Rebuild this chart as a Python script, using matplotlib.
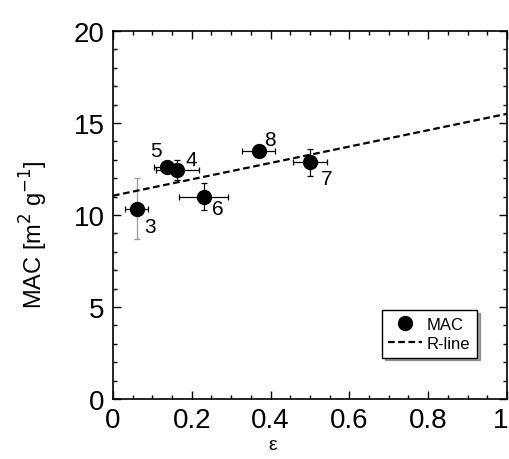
import numpy as np
from matplotlib import pyplot as plt
from matplotlib.ticker import MultipleLocator
from matplotlib.transforms import ScaledTranslation

plt.rcParams["font.family"] = ["Liberation Sans", "DejaVu Sans"]

# sample numbers and MAC values
labels = ["3", "5", "4", "6", "8", "7"]
eps = [0.06, 0.136, 0.163, 0.23, 0.37, 0.50]
mac = [10.35, 12.6, 12.45, 11.0, 13.48, 12.86]
eps_err = [0.03, 0.033, 0.055, 0.062, 0.042, 0.043]
mac_err = [0.0, 0.0, 0.55, 0.74, 0.0, 0.75]
label_pos = [(0.094, 9.37), (0.11, 13.53), (0.199, 13.04),
             (0.266, 10.35), (0.399, 14.13), (0.542, 11.99)]

# faint vertical bar on sample 3
faint_err = 1.65

# regression line
line_x = [0.0, 1.0]
line_y = [11.05, 15.5]

fig = plt.figure(figsize=(5.1, 4.6), dpi=100)
ax = fig.add_axes([0.2216, 0.1304, 0.994 - 0.2216, 0.8])

ax.errorbar(eps[0], mac[0], yerr=faint_err, fmt="none", ecolor="#9a9a9a",
            elinewidth=0.9, capsize=2, capthick=0.9)
ax.errorbar(eps, mac, xerr=eps_err, yerr=mac_err, fmt="none",
            ecolor="black", elinewidth=0.9, capsize=2, capthick=0.9)
ax.plot(eps, mac, "o", color="black", markersize=10, label="MAC")
ax.plot(line_x, line_y, color="black", linestyle=(0, (3, 1.6)),
        linewidth=1.6, label="R-line")

for lab, (lx, ly) in zip(labels, label_pos):
    ax.text(lx, ly, lab, fontsize=15, ha="center", va="center")

ax.set_xlim(0, 1)
ax.set_ylim(0, 20)
ax.xaxis.set_minor_locator(MultipleLocator(0.05))
ax.yaxis.set_major_locator(MultipleLocator(5))
ax.yaxis.set_minor_locator(MultipleLocator(1))
ax.set_xticks([0, 0.2, 0.4, 0.6, 0.8, 1.0])
ax.set_xticklabels(["0", "0.2", "0.4", "0.6", "0.8", "1"])
ax.tick_params(which="both", direction="in", top=True, right=True,
               labelsize=20, width=1)
ax.tick_params(which="major", length=6, pad=6)
ax.tick_params(which="minor", length=3)
for s in ax.spines.values():
    s.set_linewidth(1.2)

# the last x label sits at the right edge; nudge it inside
last = ax.get_xticklabels()[-1]
last.set_transform(last.get_transform() + ScaledTranslation(-6 / 100, 0, fig.dpi_scale_trans))

ax.set_xlabel("ε", fontsize=14, labelpad=2)
ax.xaxis.set_label_coords(0.406, -0.1)
ax.set_ylabel("MAC [m$^{2}$ g$^{-1}$]", fontsize=17)
ax.yaxis.set_label_coords(-0.16, 0.45)

leg = ax.legend(loc="lower right", bbox_to_anchor=(0.945, 0.09), fontsize=12,
                frameon=True, fancybox=False, shadow=True, handlelength=2.0,
                borderpad=0.4, labelspacing=0.25, handletextpad=0.3)
leg.get_frame().set_edgecolor("black")
leg.get_frame().set_linewidth(1.0)

plt.savefig("out.png", dpi=100)
